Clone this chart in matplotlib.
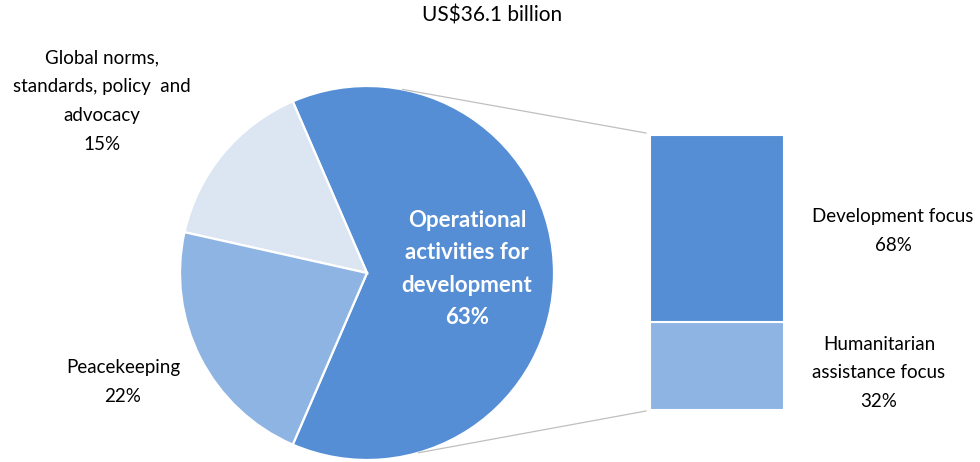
import numpy as np
import matplotlib
matplotlib.use("Agg")
import matplotlib.pyplot as plt

plt.rcParams['font.family'] = ['Lato', 'DejaVu Sans']

# Data
pie_labels = ["Operational\nactivities for\ndevelopment", "Global norms,\nstandards, policy  and\nadvocacy", "Peacekeeping"]
pie_values = [63, 15, 22]
pie_colors = ["#558ED5", "#DCE6F2", "#8EB4E3"]
bar_labels = ["Humanitarian\nassistance focus", "Development focus"]
bar_values = [32, 68]
bar_colors = ["#8EB4E3", "#558ED5"]
subtitle = "US$36.1 billion"

W, H = 980, 462
fig = plt.figure(figsize=(W / 100, H / 100), dpi=100)
ax = fig.add_axes([0, 0, 1, 1])

cx, cy, r = 367, H - 273, 187
wedges, _ = ax.pie(pie_values, colors=pie_colors, startangle=-113.4, counterclock=True,
                   center=(cx, cy), radius=r, frame=True,
                   wedgeprops=dict(edgecolor='white', linewidth=1.6))
ax.set_xlim(0, W)
ax.set_ylim(0, H)
ax.set_aspect('equal')
ax.axis('off')

# Bar (pie-of-bar)
bx0, bx1, by0, by1 = 650, 784, H - 410, H - 135
ax2 = fig.add_axes([bx0 / W, by0 / H, (bx1 - bx0) / W, (by1 - by0) / H])
bottom = 0
for v, c in zip(bar_values, bar_colors):
    ax2.bar(0, v, bottom=bottom, width=1.0, color=c, edgecolor='white', linewidth=1.5)
    bottom += v
ax2.set_xlim(-0.5, 0.5)
ax2.set_ylim(0, sum(bar_values))
ax2.axis('off')

# Connector lines
a_top, a_bot = np.deg2rad(79), np.deg2rad(-74)
ax.plot([cx + r * np.cos(a_top), bx0 - 4], [cy + r * np.sin(a_top), by1 + 2], color='#BFBFBF', lw=0.9)
ax.plot([cx + r * np.cos(a_bot), bx0 - 4], [cy + r * np.sin(a_bot), by0 - 1], color='#BFBFBF', lw=0.9)

fs = 13.5
ls = 1.85
ax.text(467, H - 269, f"{pie_labels[0]}\n{pie_values[0]}%", ha='center', va='center', color='white',
        fontsize=16, fontweight='bold', linespacing=1.68)
ax.text(102, H - 101, f"{pie_labels[1]}\n{pie_values[1]}%", ha='center', va='center', color='black',
        fontsize=fs, linespacing=ls)
ax.text(123, H - 382, f"{pie_labels[2]}\n{pie_values[2]}%", ha='center', va='center', color='black',
        fontsize=fs, linespacing=ls)
ax.text(893, H - 231, f"{bar_labels[1]}\n{bar_values[1]}%", ha='center', va='center', color='black',
        fontsize=fs, linespacing=ls)
ax.text(879, H - 373, f"{bar_labels[0]}\n{bar_values[0]}%", ha='center', va='center', color='black',
        fontsize=fs, linespacing=ls)
ax.text(492, H - 15, subtitle, ha='center', va='center', color='black', fontsize=15)

fig.savefig("out.png", dpi=100)
